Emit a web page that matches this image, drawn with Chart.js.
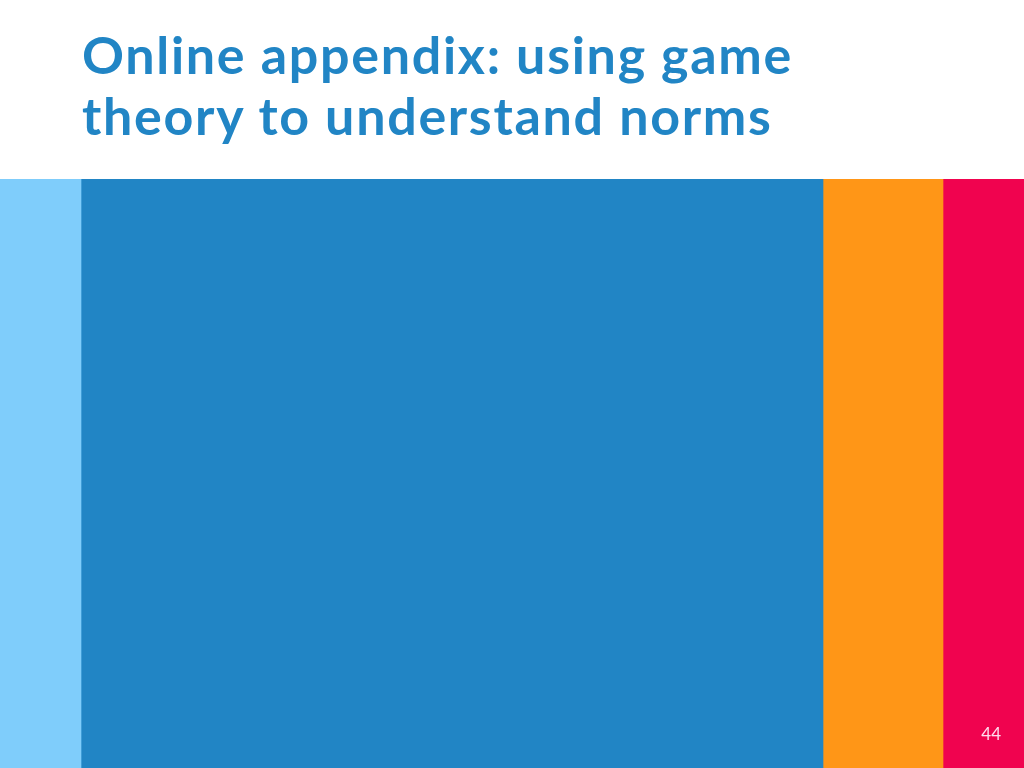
<!DOCTYPE html>
<html>
<head>
<meta charset="utf-8">
<script src="https://cdn.jsdelivr.net/npm/chart.js@4.4.0/dist/chart.umd.min.js"></script>
<style>
  html, body { margin: 0; padding: 0; background: #fff; width: 1024px; height: 768px; overflow: hidden; }
  h1 {
    position: absolute; left: 82px; top: 24px; margin: 0;
    font-family: Lato, "Open Sans", sans-serif; font-weight: 700;
    font-size: 52px; line-height: 61px; letter-spacing: 1.7px; color: #2185c5;
  }
  #bands { position: absolute; left: 0; top: 179px; width: 1024px; height: 589px; }
  #page { position: absolute; right: 23px; bottom: 24px; font-family: Lato, sans-serif; font-size: 17px; color: #fde; }
</style>
</head>
<body>
<h1>Online appendix: using game<br>theory to understand norms</h1>
<div id="bands"><canvas id="c"></canvas></div>
<div id="page">44</div>
<script>
// one stacked row, segment widths (total 1024)
const rows = ['slide'];
const segNames = ['light', 'blue', 'orange', 'red'];
const segWidths = [81, 742, 120, 81];
const segColors = ['#7fcdfb', '#2185c5', '#ff9617', '#f0034f'];

const datasets = segNames.map((n, i) => ({
  label: n,
  data: [segWidths[i]],
  backgroundColor: segColors[i],
  borderWidth: 0,
  barPercentage: 1,
  categoryPercentage: 1
}));

new Chart(document.getElementById('c'), {
  type: 'bar',
  data: { labels: rows, datasets: datasets },
  options: {
    indexAxis: 'y',
    responsive: true,
    maintainAspectRatio: false,
    animation: false,
    layout: { padding: 0 },
    plugins: { legend: { display: false }, tooltip: { enabled: false } },
    scales: {
      x: { stacked: true, min: 0, max: 1024, display: false },
      y: { stacked: true, display: false }
    }
  }
});
</script>
</body>
</html>
